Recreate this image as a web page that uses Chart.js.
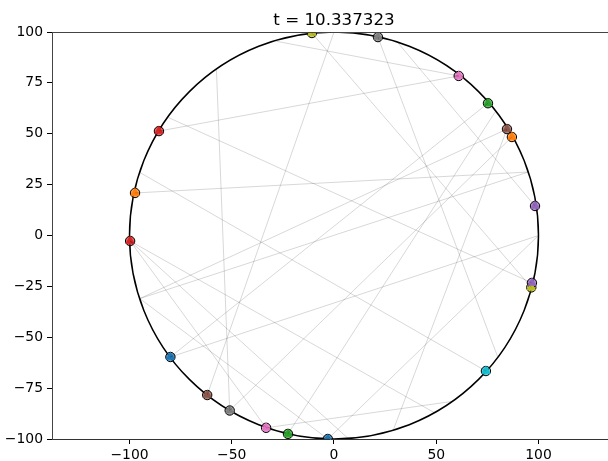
<!DOCTYPE html>
<html>
<head>
<meta charset="utf-8">
<script src="https://cdn.jsdelivr.net/npm/chart.js@4.4.1/dist/chart.umd.min.js"></script>
<style>
  html, body { margin: 0; padding: 0; background: #fff; overflow: hidden; }
  canvas { display: block; }
</style>
</head>
<body>
<canvas id="chart" width="608" height="461"></canvas>
<script>
const titleText = "t = 10.337323"
const wallRadius = 100

const xTicks = [-100, -50, 0, 50, 100]
const yTicks = [-100, -75, -50, -25, 0, 25, 50, 75, 100]

// ball positions (on the wall)
const ballX = [-80, -3, 84.6, -62, 75.3, -22.5, -85.6, -99.7, -10.8, 96.5, 98.3, 96.8, -97.3, 87, 61, -33.2, 21.5, -51, 74.3]
const ballY = [-59.7, -100, 52.3, -78.4, 65, -97.5, 51.3, -2.7, 99.5, -25.5, 14.5, -23.3, 20.9, 48.4, 78.4, -94.5, 97.5, -86, -66.6]
const ballColors = [
  "#1f77b4", "#1f77b4", "#8c564b", "#8c564b", "#2ca02c", "#2ca02c",
  "#d62728", "#d62728", "#bcbd22", "#bcbd22", "#9467bd", "#9467bd",
  "#ff7f0e", "#ff7f0e", "#e377c2", "#e377c2", "#7f7f7f", "#7f7f7f", "#17becf"
]

// trail chords, start and end
const trailX1 = [-57.5, -85.6, -81, -97.3, -95, 0, -29, -10.8, 21.5, 75.3, 31, 95, 84.6, -95, -80, -3, 84.6, 87, 79, -33.2, -99.7, -99.7, -99.7]
const trailY1 = [81.8, 51.3, 58, 20.9, 31, 100, 95.6, 99.5, 97.5, 65, 95, 31.2, 52.3, -31, -59.7, -100, 52.3, 48.4, 61, -94.5, -2.7, -2.7, -2.7]
const trailX2 = [-51, 61, 96.8, 95, 74.3, -62, 61, 96.5, 80, -80, 98.3, -95, -95, -3, 100, 100, 29, -51, -22.5, 58, 7, 49, -33.2]
const trailY2 = [-86, 78.4, -23.3, 31.2, -66.6, -78.4, 78.4, -25.5, -59.5, -59.7, 14.5, -31, -31, -100, 0, 0, -95.6, -86, -97.5, -81.5, -99.8, -87, -94.5]

const FONT = "'DejaVu Sans', sans-serif"

const fmt = v => (v < 0 ? "\u2212" + Math.abs(v) : String(v))

const trailSets = trailX1.map((x, i) => ({
  type: "scatter",
  showLine: true,
  data: [{ x, y: trailY1[i] }, { x: trailX2[i], y: trailY2[i] }],
  borderColor: "rgba(0, 0, 0, 0.2)",
  borderWidth: 0.8,
  pointRadius: 0,
  clip: 0,
}))

const balls = ballX.map((x, i) => ({ x, y: ballY[i] }))

const wallAndFrame = {
  id: "wallAndFrame",
  beforeDatasetsDraw(chart) {
    const { ctx, chartArea: a, scales: { x, y } } = chart
    const cx = x.getPixelForValue(0)
    const cy = y.getPixelForValue(0)
    const rx = x.getPixelForValue(wallRadius) - cx
    const ry = cy - y.getPixelForValue(wallRadius)
    ctx.save()
    ctx.beginPath()
    ctx.rect(a.left, a.top, a.right - a.left, a.bottom - a.top)
    ctx.clip()
    ctx.beginPath()
    ctx.ellipse(cx, cy, rx, ry, 0, 0, Math.PI * 2)
    ctx.strokeStyle = "#000"
    ctx.lineWidth = 1.5
    ctx.stroke()
    ctx.restore()
  },
  afterDraw(chart) {
    const { ctx, chartArea: a } = chart
    ctx.save()
    // top spine
    ctx.beginPath()
    ctx.moveTo(a.left, a.top + 0.5)
    ctx.lineTo(a.right + 10, a.top + 0.5)
    ctx.strokeStyle = "#444"
    ctx.lineWidth = 1
    ctx.stroke()
    // title, centred over the axes
    ctx.fillStyle = "#000"
    ctx.font = "16.7px " + FONT
    ctx.textAlign = "center"
    ctx.textBaseline = "alphabetic"
    ctx.fillText(titleText, chart.scales.x.getPixelForValue(0), a.top - 7)
    ctx.restore()
  }
}

new Chart(document.getElementById("chart"), {
  type: "scatter",
  data: {
    datasets: [
      ...trailSets,
      {
        data: balls,
        pointStyle: "triangle",
        pointRadius: 5.5,
        backgroundColor: ballColors,
        borderColor: ballColors,
        borderWidth: 0,
        clip: 0,
      },
      {
        data: balls,
        pointStyle: "circle",
        pointRadius: 4.7,
        backgroundColor: ballColors.map(c => c + "bb"),
        borderColor: "#000",
        borderWidth: 1,
        clip: 0,
      }
    ]
  },
  options: {
    responsive: false,
    animation: false,
    layout: { autoPadding: false, padding: { top: 32, left: 0, right: 0, bottom: 0 } },
    plugins: {
      legend: { display: false },
      tooltip: { enabled: false },
      title: { display: false },
    },
    scales: {
      x: {
        type: "linear",
        min: -137.9,
        max: 134,
        afterBuildTicks: s => { s.ticks = xTicks.map(value => ({ value })) },
        afterFit: s => { s.height = 22 },
        ticks: {
          callback: fmt,
          color: "#000",
          font: { family: FONT, size: 13.9 },
          padding: 3,
          maxRotation: 0,
        },
        grid: { drawOnChartArea: false, drawTicks: true, tickLength: 5, tickColor: "#000" },
        border: { display: true, color: "#333", width: 1 },
      },
      y: {
        type: "linear",
        min: -100,
        max: 100,
        afterBuildTicks: s => { s.ticks = yTicks.map(value => ({ value })) },
        afterFit: s => { s.width = 52 },
        ticks: {
          callback: fmt,
          color: "#000",
          font: { family: FONT, size: 13.9 },
          padding: 4,
        },
        grid: { drawOnChartArea: false, drawTicks: true, tickLength: 5, tickColor: "#000" },
        border: { display: true, color: "#444", width: 1 },
      }
    }
  },
  plugins: [wallAndFrame]
})
</script>
</body>
</html>
